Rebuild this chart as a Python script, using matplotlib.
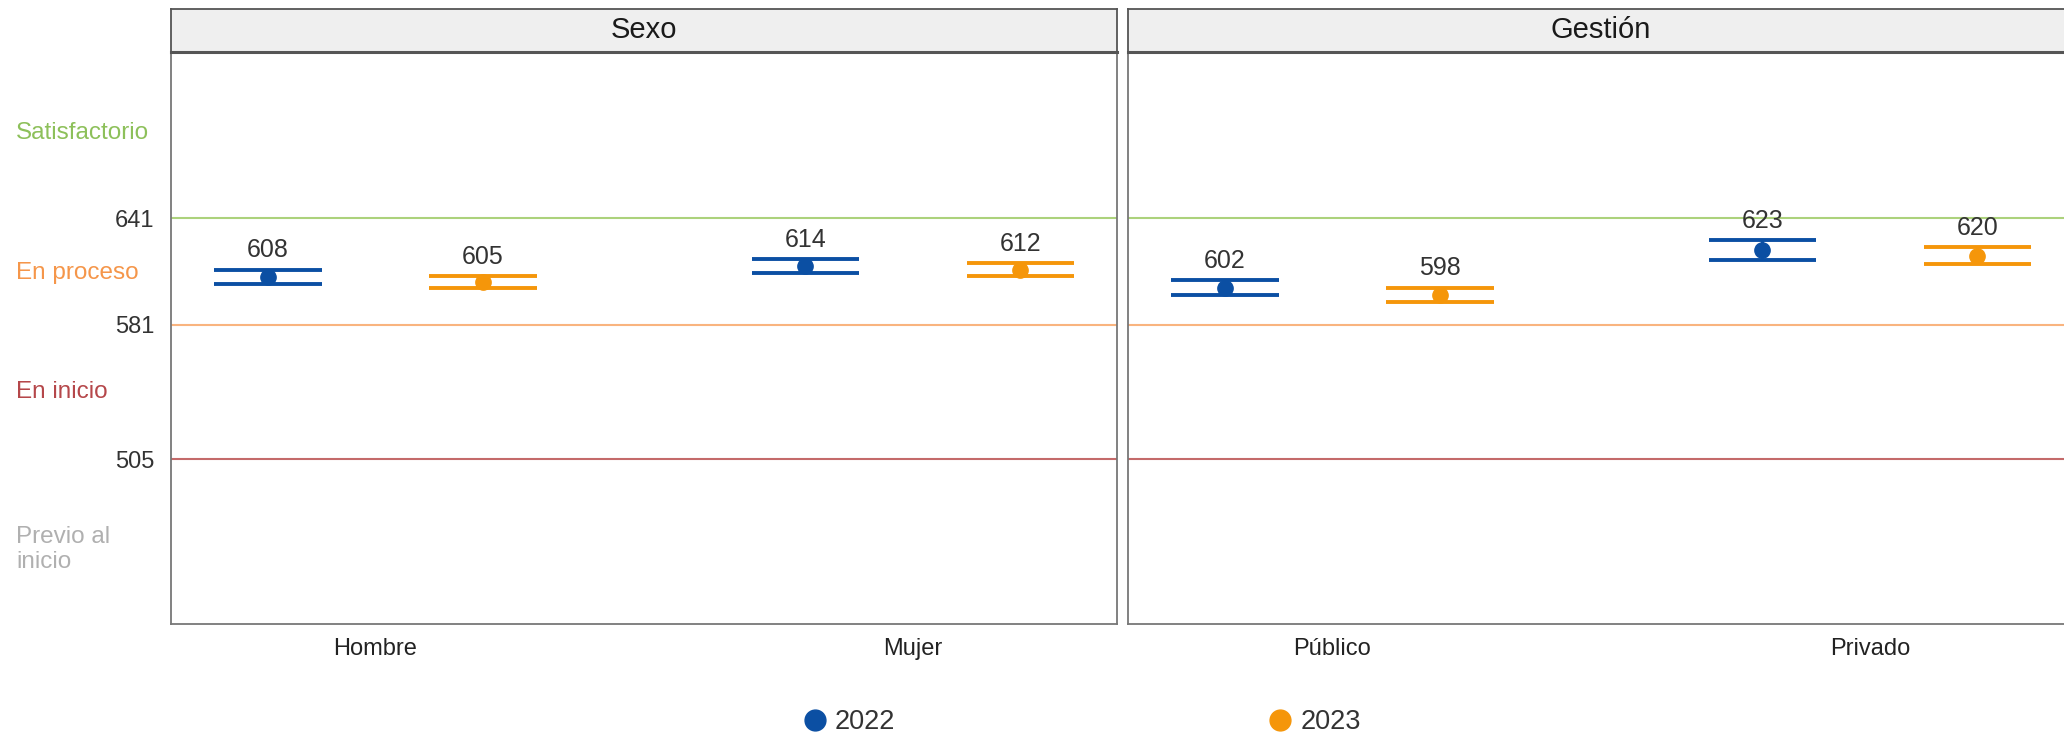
import numpy as np
import matplotlib
matplotlib.use("Agg")
import matplotlib.pyplot as plt
import matplotlib.transforms as mtransforms
from matplotlib.lines import Line2D

plt.rcParams['font.family'] = ['Liberation Sans', 'DejaVu Sans']

# datos
panels = ["Sexo", "Gestión"]
categorias = [["Hombre", "Mujer"], ["Público", "Privado"]]
anios = ["2022", "2023"]
medias_2022 = [[608, 614], [602, 623]]
medias_2023 = [[605, 612], [598, 620]]
ic_2022 = [[4.0, 4.0], [4.2, 5.6]]   # semiamplitud del intervalo
ic_2023 = [[3.4, 3.7], [3.9, 4.8]]

cortes = [641, 581, 505]
niveles = ["Satisfactorio", "En proceso", "En inicio", "Previo al\ninicio"]
niveles_y = [689, 610, 543, 454]

col_anio = {"2022": "#0b4fa3", "2023": "#f5960a"}
col_cortes = ["#acd27c", "#f9b47f", "#c46a6a"]
col_niveles = ["#8dc05a", "#f5964a", "#b5474a", "#b0b0b0"]

W, H = 2064, 736
fig = plt.figure(figsize=(W / 100, H / 100), dpi=100)

ax_w = 946 / W
ax_bottom = 1 - 624 / H
ax_h = (624 - 52) / H
lefts = [171 / W, 1128 / W]
ylim = (412, 735)

axes = []
for p in range(2):
    ax = fig.add_axes([lefts[p], ax_bottom, ax_w, ax_h])
    axes.append(ax)
    ax.set_xlim(0.62, 2.38)
    ax.set_ylim(*ylim)
    for c, col in zip(cortes, col_cortes):
        ax.axhline(c, color=col, lw=1.5, zorder=1)

    x = np.arange(1, 3)
    for anio, medias, ics, dx in [("2022", medias_2022[p], ic_2022[p], -0.2),
                                  ("2023", medias_2023[p], ic_2023[p], 0.2)]:
        xs = x + dx
        m = np.array(medias, dtype=float)
        e = np.array(ics)
        col = col_anio[anio]
        ax.vlines(xs, m - e, m + e, color=col, lw=2.2, zorder=3)
        ax.hlines(m + e, xs - 0.1, xs + 0.1, color=col, lw=2.8, zorder=3)
        ax.hlines(m - e, xs - 0.1, xs + 0.1, color=col, lw=2.8, zorder=3)
        ax.plot(xs, m, 'o', color=col, ms=11, zorder=4)
        for xi, mi, ei in zip(xs, medias, e):
            ax.annotate(str(mi), (xi, mi + ei), xytext=(0, 9), textcoords="offset points",
                        ha="center", va="baseline", fontsize=18, color="#333333")

    ax.set_xticks(x)
    ax.set_xticklabels(categorias[p], fontsize=17, color="#222222")
    ax.tick_params(axis="x", length=0, pad=10)
    if p == 0:
        ax.set_yticks(cortes)
        ax.set_yticklabels([str(c) for c in cortes], fontsize=17, color="#333333")
        ax.tick_params(axis="y", length=0, pad=12)
    else:
        ax.set_yticks([])
    for s in ax.spines.values():
        s.set_color("#777777")
        s.set_linewidth(1.3)

    # franja del panel
    sax = fig.add_axes([lefts[p], 1 - 52 / H, ax_w, 43 / H])
    sax.set_xticks([])
    sax.set_yticks([])
    sax.set_facecolor("#efefef")
    for s in sax.spines.values():
        s.set_color("#555555")
        s.set_linewidth(1.3)
    sax.spines["bottom"].set_linewidth(2.2)
    sax.text(0.5, 0.5, panels[p], ha="center", va="center", fontsize=21,
             color="#1a1a1a", transform=sax.transAxes)

# etiquetas de niveles a la izquierda
trans = mtransforms.blended_transform_factory(fig.transFigure, axes[0].transData)
for txt, yv, col in zip(niveles, niveles_y, col_niveles):
    axes[0].text(16 / W, yv, txt, transform=trans, ha="left", va="center",
                 fontsize=17.5, color=col, linespacing=1.15)

handles = [Line2D([], [], marker="o", ls="", color=col_anio[a], ms=15) for a in anios]
fig.legend(handles, anios, loc="center", bbox_to_anchor=(0.5237, 0.019), ncol=2,
           frameon=False, fontsize=19.5, handlelength=1.0, handletextpad=0.25,
           columnspacing=13.7, labelcolor="#333333")

fig.savefig("out.png", dpi=100)
